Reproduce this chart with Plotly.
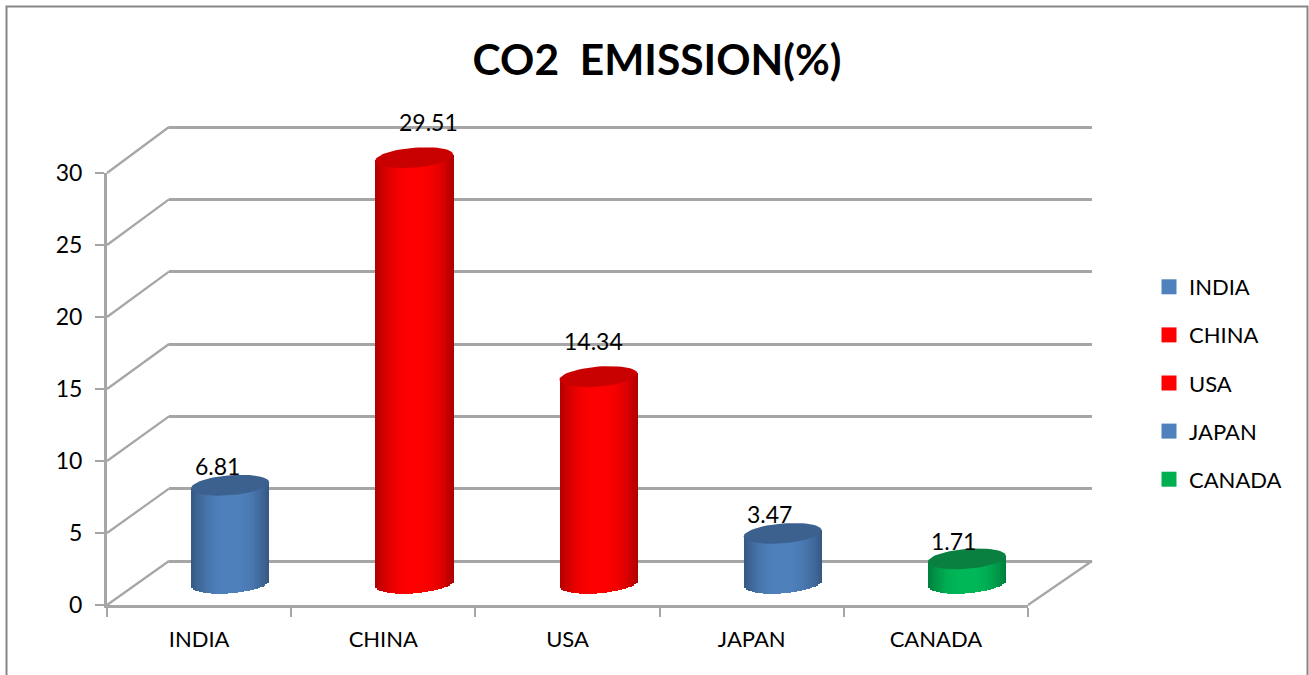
import math
import plotly.graph_objects as go

countries = ["INDIA", "CHINA", "USA", "JAPAN", "CANADA"]
emissions = [6.81, 29.51, 14.34, 3.47, 1.71]
y_ticks = [0, 5, 10, 15, 20, 25, 30]
title_text = "CO2\u00a0\u00a0EMISSION(%)"

base_rgb = [(79, 129, 189), (255, 0, 0), (255, 0, 0), (79, 129, 189), (0, 184, 88)]
legend_colors = ["#4F81BD", "#FF0000", "#FF0000", "#4F81BD", "#00B050"]
top_colors = ["#3C618F", "#C80000", "#C80000", "#3C618F", "#0A8040"]
label_dx = [-13, 14, -5, -13, -13]
label_dy = [3, 20, 20, 3, 2]

W, H = 1309, 675
GRID = "#A6A6A6"
FONT = "Lato"
FS = 22


def px_x(p):
    return p / W


def px_y(p):
    return 1 - p / H


FX0, FX1, FY0, FY30 = 107, 1028, 605, 173
BX0, BX1, BY0, BY30 = 169, 1092, 561, 127
MX0, MX1, MY0, UNIT = 138, 1059, 583.5, 14.43
R_LO, R_HI = -2, 31
N_STRIPS = 40
HALF = 39 / ((MX1 - MX0) / 5)
B = 10 / UNIT
S = 3 / UNIT
BACK_UNIT = (BY0 - BY30) / 30

fig = go.Figure()

# front axes carry tick labels, back axes carry gridlines
fig.add_trace(go.Bar(x=countries, y=[None] * 5, xaxis="x", yaxis="y", showlegend=False, hoverinfo="skip"))
fig.add_trace(go.Scatter(x=[0], y=[None], xaxis="x2", yaxis="y2", showlegend=False, hoverinfo="skip"))

# cylinders: vertical strips following the elliptical base
for k in range(N_STRIPS):
    u = (k + 0.5) / N_STRIPS * 2 - 1
    shade = 1 - 0.32 * abs(u) ** 2.4
    colors = ["rgb(%d,%d,%d)" % tuple(int(c * shade) for c in rgb) for rgb in base_rgb]
    bottom = -B * math.sqrt(1 - u * u) + S * u
    top = [v + S * u for v in emissions]
    fig.add_trace(go.Bar(
        x=list(range(len(countries))),
        y=[t - bottom for t in top],
        base=[bottom] * len(countries),
        width=2 * HALF / N_STRIPS * 1.15,
        offset=u * HALF - HALF / N_STRIPS,
        marker=dict(color=colors, line=dict(width=0)),
        xaxis="x3", yaxis="y3", showlegend=False, hoverinfo="skip",
    ))

# cylinder tops
for i, (name, v) in enumerate(zip(countries, emissions)):
    ts = [2 * math.pi * j / 60 for j in range(61)]
    fig.add_trace(go.Scatter(
        x=[i + HALF * math.cos(t) for t in ts],
        y=[v + B * math.sin(t) + S * math.cos(t) for t in ts],
        mode="lines", fill="toself", fillcolor=top_colors[i],
        line=dict(width=0, color=top_colors[i]),
        xaxis="x3", yaxis="y3", showlegend=False, hoverinfo="skip",
    ))

# legend entries
for i, name in enumerate(countries):
    fig.add_trace(go.Scatter(
        x=[None], y=[None], name=name, mode="markers", legendgroup=name,
        marker=dict(symbol="square", size=15, color=legend_colors[i]),
        xaxis="x3", yaxis="y3",
    ))

# side wall and floor lines
shapes = []
for t in y_ticks:
    shapes.append(dict(
        type="line", xref="paper", yref="paper",
        x0=px_x(FX0), x1=px_x(BX0),
        y0=px_y(FY0 - (FY0 - FY30) * t / 30), y1=px_y(BY0 - (BY0 - BY30) * t / 30),
        line=dict(color=GRID, width=2.2), layer="below",
    ))
shapes.append(dict(type="line", xref="paper", yref="paper",
                   x0=px_x(FX1), x1=px_x(BX1), y0=px_y(FY0), y1=px_y(BY0),
                   line=dict(color=GRID, width=2.2), layer="below"))
shapes.append(dict(type="path", xref="paper", yref="paper",
                   path="M %f %f L %f %f L %f %f L %f %f" % (
                       px_x(6.5), px_y(680), px_x(6.5), px_y(6.5),
                       px_x(1307.5), px_y(6.5), px_x(1307.5), px_y(680)),
                   line=dict(color="#868686", width=2), layer="below"))

annotations = [
    dict(x=i, y=v, xref="x3", yref="y3", text=f"{v:.2f}", showarrow=False,
         xshift=label_dx[i], yshift=label_dy[i], yanchor="bottom",
         font=dict(family=FONT, size=23, color="black"))
    for i, v in enumerate(emissions)
]

fig.update_layout(
    width=W, height=H, autosize=False,
    margin=dict(l=0, r=0, t=0, b=0),
    paper_bgcolor="white", plot_bgcolor="rgba(0,0,0,0)",
    barmode="overlay", bargap=0,
    font=dict(family=FONT, size=FS, color="black"),
    title=dict(text=title_text, x=657 / W, xanchor="center", y=px_y(60), yanchor="middle",
               font=dict(family=FONT, size=42.5, color="black", weight="bold")),
    shapes=shapes, annotations=annotations,
    legend=dict(x=px_x(1149), xanchor="left", y=px_y(266), yanchor="top",
                tracegroupgap=16.5, bgcolor="rgba(0,0,0,0)",
                font=dict(family=FONT, size=FS, color="black")),
    xaxis=dict(domain=[px_x(FX0), px_x(FX1)], type="category", categoryorder="array",
               categoryarray=countries, range=[-0.5, 4.5], anchor="y",
               showline=True, linecolor=GRID, linewidth=3, showgrid=False,
               ticks="outside", ticklen=9, tickwidth=2, tickcolor=GRID, tickson="boundaries",
               ticklabelstandoff=13, automargin=False,
               tickfont=dict(family=FONT, size=FS, color="black")),
    yaxis=dict(domain=[px_y(FY0), px_y(FY30)], range=[0, 30], anchor="x",
               tickvals=y_ticks, showline=True, linecolor=GRID, linewidth=3, showgrid=False,
               zeroline=False, ticks="outside", ticklen=9, tickwidth=2, tickcolor=GRID,
               ticklabelstandoff=8, automargin=False,
               tickfont=dict(family=FONT, size=23, color="black")),
    xaxis2=dict(domain=[px_x(BX0), px_x(BX1)], range=[0, 1], anchor="y2", visible=False),
    yaxis2=dict(domain=[px_y(BY0 + BACK_UNIT), px_y(BY30 - BACK_UNIT)], range=[-1, 31], anchor="x2",
                tickvals=y_ticks, showticklabels=False, showline=False, ticks="",
                showgrid=True, gridcolor=GRID, gridwidth=3,
                zeroline=True, zerolinecolor=GRID, zerolinewidth=3),
    xaxis3=dict(domain=[px_x(MX0), px_x(MX1)], range=[-0.5, 4.5], anchor="y3", visible=False),
    yaxis3=dict(domain=[px_y(MY0 - R_LO * UNIT), px_y(MY0 - R_HI * UNIT)],
                range=[R_LO, R_HI], anchor="x3", visible=False),
)

fig.write_html("out.html", config=dict(displayModeBar=False),
               post_script="document.body.style.margin='0';document.documentElement.style.overflow='hidden';")
